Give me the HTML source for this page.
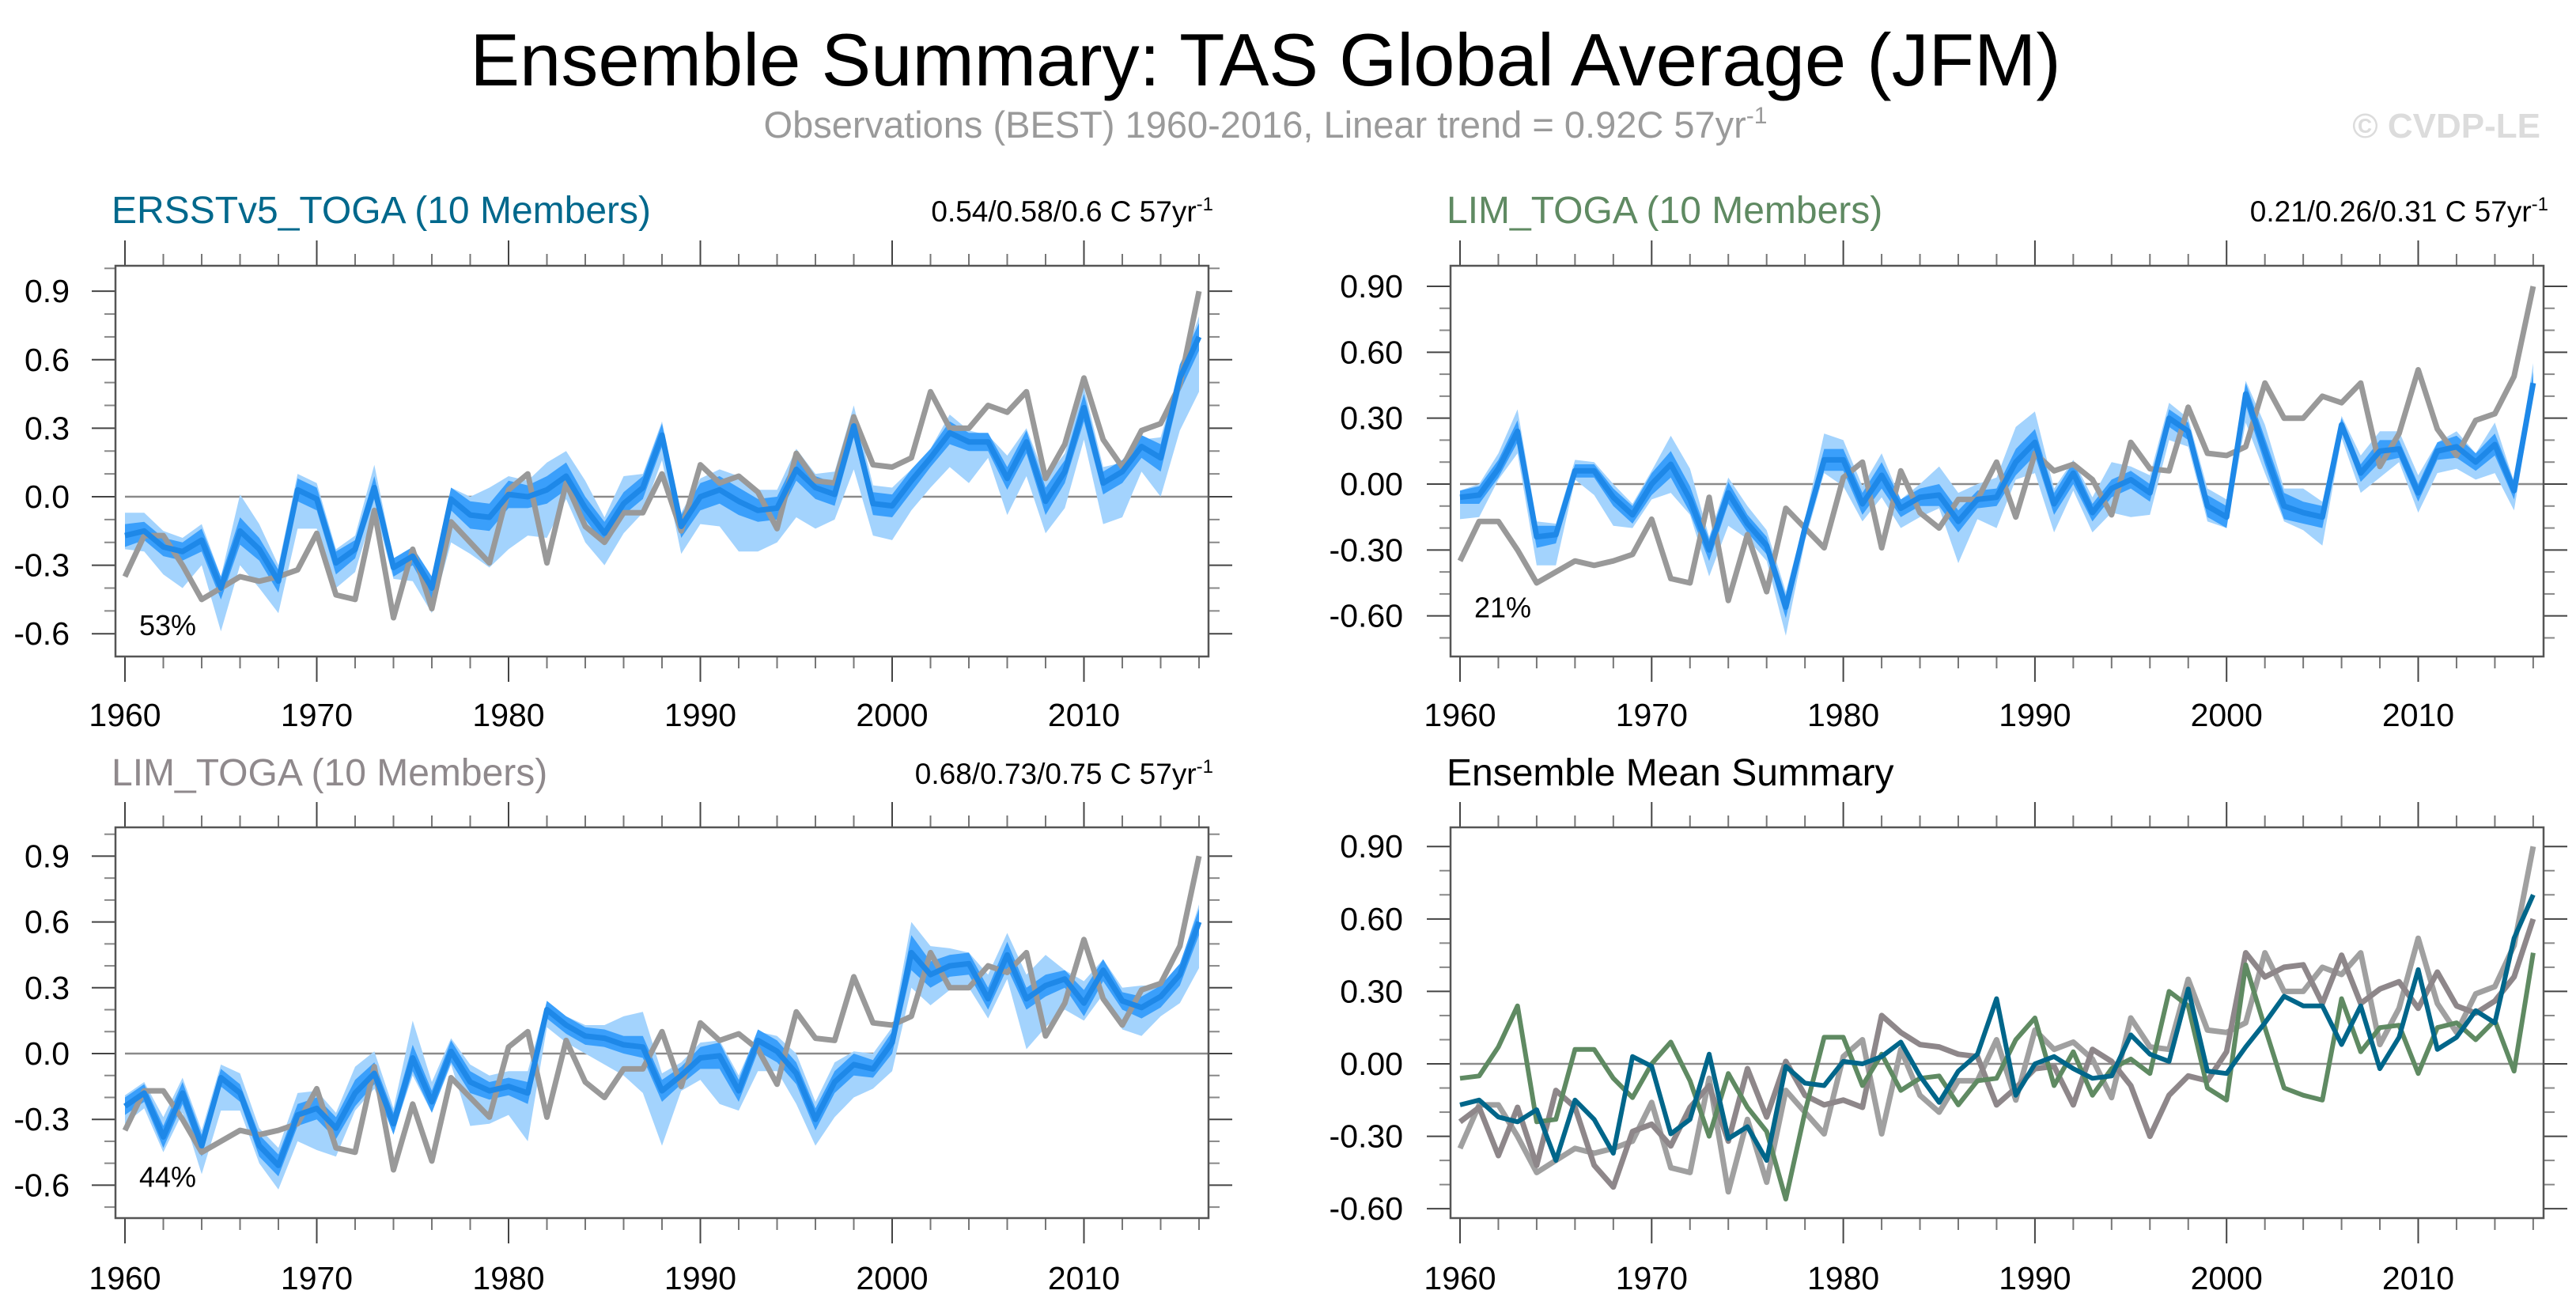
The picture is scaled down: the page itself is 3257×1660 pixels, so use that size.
<!DOCTYPE html>
<html><head><meta charset="utf-8"><title>Ensemble Summary: TAS Global Average (JFM)</title>
<style>
html,body{margin:0;padding:0;background:#fff;}
svg{display:block;font-family:"Liberation Sans",Arial,sans-serif;}
</style></head>
<body>
<svg id="chart" width="3257" height="1660" viewBox="0 0 3257 1660" xmlns="http://www.w3.org/2000/svg">
<text x="1600" y="108" font-size="94" text-anchor="middle" fill="#000">Ensemble Summary: TAS Global Average (JFM)</text>
<text x="1600" y="174" font-size="47" text-anchor="middle" fill="#9a9a9a">Observations (BEST) 1960-2016, Linear trend = 0.92C 57yr<tspan dy="-18" font-size="30">-1</tspan></text>
<text x="3212" y="174" font-size="44" font-weight="bold" text-anchor="end" fill="#dcdcdc">© CVDP-LE</text>
</svg>
<script>
const years = [];
for (let y = 1960; y <= 2016; y++) years.push(y);

const obs = [-0.35,-0.17,-0.17,-0.30,-0.45,-0.40,-0.35,-0.37,-0.35,-0.32,-0.16,-0.43,-0.45,-0.06,-0.53,-0.23,-0.49,-0.11,-0.20,-0.29,0.03,0.10,-0.29,0.06,-0.13,-0.20,-0.07,-0.07,0.10,-0.15,0.14,0.06,0.09,0.02,-0.14,0.19,0.07,0.06,0.35,0.14,0.13,0.17,0.46,0.30,0.30,0.40,0.37,0.46,0.08,0.23,0.52,0.25,0.13,0.29,0.32,0.49,0.90];

const ersstMean = [-0.17,-0.15,-0.22,-0.24,-0.19,-0.40,-0.15,-0.23,-0.37,0.03,-0.01,-0.29,-0.23,0.04,-0.31,-0.26,-0.40,-0.01,-0.08,-0.09,0.01,0.00,0.03,0.09,-0.05,-0.16,-0.03,0.04,0.27,-0.13,0.00,0.03,-0.02,-0.06,-0.05,0.12,0.04,0.01,0.31,-0.03,-0.04,0.07,0.17,0.28,0.24,0.24,0.08,0.24,-0.02,0.11,0.39,0.06,0.11,0.22,0.17,0.52,0.70];
const ersstHi = [-0.07,-0.07,-0.15,-0.18,-0.12,-0.35,0.01,-0.12,-0.30,0.10,0.06,-0.23,-0.17,0.14,-0.27,-0.23,-0.35,0.04,0.00,0.04,0.09,0.07,0.15,0.20,0.07,-0.09,0.09,0.10,0.33,-0.07,0.08,0.12,0.09,0.03,0.03,0.21,0.10,0.11,0.40,0.05,0.04,0.12,0.21,0.36,0.29,0.27,0.18,0.30,0.08,0.19,0.48,0.13,0.15,0.25,0.26,0.55,0.79];
const ersstLo = [-0.23,-0.24,-0.34,-0.40,-0.30,-0.59,-0.30,-0.40,-0.51,-0.14,-0.14,-0.40,-0.33,-0.05,-0.36,-0.37,-0.51,-0.20,-0.25,-0.31,-0.23,-0.17,-0.18,-0.01,-0.20,-0.30,-0.16,-0.07,0.16,-0.25,-0.12,-0.13,-0.24,-0.24,-0.20,-0.09,-0.14,-0.10,0.12,-0.17,-0.19,-0.06,0.04,0.13,0.06,0.17,-0.08,0.09,-0.16,-0.05,0.25,-0.12,-0.09,0.11,0.00,0.29,0.46];
const ersstDarkW = [0.05,0.04,0.04,0.04,0.05,0.05,0.06,0.05,0.05,0.05,0.05,0.05,0.04,0.05,0.04,0.04,0.05,0.05,0.06,0.06,0.06,0.05,0.06,0.06,0.05,0.05,0.05,0.05,0.05,0.05,0.06,0.06,0.06,0.05,0.05,0.05,0.05,0.05,0.05,0.05,0.05,0.05,0.04,0.05,0.04,0.04,0.05,0.05,0.06,0.05,0.06,0.05,0.05,0.05,0.06,0.06,0.06];

const limMean = [-0.06,-0.05,0.07,0.24,-0.24,-0.23,0.06,0.06,-0.06,-0.14,0.00,0.09,-0.07,-0.30,-0.04,-0.18,-0.28,-0.56,-0.20,0.11,0.11,-0.09,0.04,-0.11,-0.06,-0.05,-0.17,-0.07,-0.06,0.10,0.19,-0.09,0.05,-0.13,-0.02,0.02,-0.04,0.30,0.24,-0.10,-0.15,0.41,0.15,-0.10,-0.13,-0.15,0.27,0.05,0.15,0.16,-0.04,0.15,0.17,0.10,0.18,-0.03,0.46];
const limHi = [-0.03,0.00,0.14,0.34,-0.17,-0.18,0.11,0.10,0.00,-0.09,0.06,0.22,0.07,-0.24,0.03,-0.10,-0.21,-0.49,-0.16,0.23,0.20,-0.01,0.14,-0.07,0.00,0.08,-0.04,0.00,0.03,0.26,0.33,-0.02,0.11,-0.06,0.10,0.08,0.04,0.37,0.30,-0.02,-0.07,0.47,0.27,-0.02,-0.02,-0.08,0.31,0.13,0.24,0.24,0.04,0.19,0.24,0.14,0.28,0.01,0.55];
const limLo = [-0.16,-0.15,0.02,0.14,-0.37,-0.37,0.02,-0.05,-0.19,-0.20,-0.07,-0.04,-0.14,-0.42,-0.19,-0.25,-0.35,-0.69,-0.26,0.05,-0.01,-0.17,-0.06,-0.20,-0.15,-0.11,-0.36,-0.16,-0.20,0.02,0.05,-0.22,-0.03,-0.22,-0.13,-0.15,-0.14,0.20,0.17,-0.17,-0.20,0.28,0.05,-0.17,-0.21,-0.28,0.21,-0.04,0.03,0.10,-0.13,0.05,0.07,0.02,0.05,-0.12,0.41];
const limDarkW = [0.03,0.04,0.04,0.05,0.05,0.04,0.03,0.03,0.04,0.04,0.05,0.06,0.06,0.05,0.05,0.04,0.04,0.05,0.04,0.05,0.05,0.05,0.06,0.04,0.04,0.05,0.05,0.04,0.04,0.06,0.06,0.05,0.05,0.04,0.04,0.04,0.04,0.04,0.04,0.05,0.05,0.05,0.06,0.06,0.05,0.05,0.03,0.04,0.05,0.04,0.04,0.04,0.05,0.04,0.05,0.04,0.05];

const togaMean = [-0.24,-0.18,-0.38,-0.18,-0.42,-0.11,-0.18,-0.42,-0.51,-0.28,-0.25,-0.34,-0.18,-0.09,-0.32,-0.02,-0.22,0.01,-0.13,-0.17,-0.15,-0.18,0.20,0.13,0.08,0.07,0.04,0.03,-0.17,-0.10,-0.02,-0.01,-0.17,0.06,0.01,-0.09,-0.30,-0.13,-0.05,-0.07,0.05,0.46,0.36,0.40,0.41,0.25,0.45,0.25,0.31,0.34,0.23,0.38,0.24,0.21,0.26,0.36,0.60];
const togaHi = [-0.19,-0.13,-0.29,-0.11,-0.35,-0.05,-0.09,-0.34,-0.43,-0.18,-0.17,-0.27,-0.06,0.01,-0.25,0.15,-0.13,0.07,-0.05,-0.10,-0.08,-0.08,0.24,0.17,0.13,0.13,0.17,0.19,-0.09,-0.04,0.05,0.06,-0.10,0.10,0.08,0.00,-0.22,-0.04,0.01,0.00,0.12,0.60,0.49,0.48,0.46,0.36,0.55,0.36,0.45,0.38,0.33,0.43,0.30,0.31,0.31,0.40,0.68];
const togaLo = [-0.32,-0.25,-0.45,-0.27,-0.55,-0.26,-0.26,-0.50,-0.62,-0.40,-0.44,-0.47,-0.26,-0.16,-0.36,-0.10,-0.27,-0.05,-0.33,-0.32,-0.28,-0.40,0.12,0.05,0.00,-0.05,-0.10,-0.18,-0.42,-0.17,-0.12,-0.23,-0.26,-0.08,-0.08,-0.23,-0.42,-0.29,-0.20,-0.16,-0.08,0.30,0.22,0.29,0.30,0.16,0.34,0.02,0.12,0.20,0.15,0.27,0.11,0.08,0.17,0.23,0.39];
const togaDarkW = [0.04,0.04,0.05,0.05,0.05,0.04,0.04,0.05,0.05,0.05,0.05,0.05,0.06,0.05,0.05,0.06,0.05,0.05,0.05,0.04,0.04,0.05,0.04,0.04,0.04,0.04,0.04,0.05,0.05,0.04,0.05,0.06,0.05,0.05,0.05,0.05,0.05,0.05,0.05,0.04,0.05,0.08,0.06,0.05,0.05,0.05,0.06,0.05,0.05,0.04,0.06,0.05,0.04,0.05,0.05,0.05,0.06];

const xTickLabels = ["1960","1970","1980","1990","2000","2010"];
const yTicksLeft = [-0.6,-0.3,0.0,0.3,0.6,0.9];
const yTicksRight = [-0.60,-0.30,0.00,0.30,0.60,0.90];

const NS = "http://www.w3.org/2000/svg";
const svg = document.getElementById("chart");
function mk(tag, attrs, parent) {
  const e = document.createElementNS(NS, tag);
  for (const k in attrs) e.setAttribute(k, attrs[k]);
  (parent || svg).appendChild(e);
  return e;
}

function makePanel(cfg) {
  const g = mk("g", {});
  
  
  const xS = yr => cfg.x0 + (yr - 1960) * cfg.xStep;
  const yS = v => cfg.yZero - v * cfg.yScale;
  const L = cfg.fx0, R = cfg.fx1, T = cfg.fy0, B = cfg.fy1;

  for (let yr = 1960; yr <= 2016; yr += 2) {
    const major = (yr % 10 === 0);
    const len = major ? 32 : 15;
    const xx = xS(yr);
    const t1 = mk("line", {x1: xx, x2: xx, y1: T, y2: T - len, stroke: major ? "#444" : "#777", "stroke-width": 2}, g);
    
    
    const t2 = mk("line", {x1: xx, x2: xx, y1: B, y2: B + len, stroke: major ? "#444" : "#777", "stroke-width": 2}, g);
    
    
  }
  const vMin = (cfg.yZero - B) / cfg.yScale, vMax = (cfg.yZero - T) / cfg.yScale;
  for (let k = Math.ceil(vMin * 10 - 1e-6); k <= Math.floor(vMax * 10 + 1e-6); k++) {
    const v = k / 10;
    const major = (Math.abs(k) % 3 === 0);
    const len = major ? 30 : 14;
    const yy = yS(v);
    const a = mk("line", {x1: L, x2: L - len, y1: yy, y2: yy, stroke: major ? "#444" : "#888", "stroke-width": 2}, g);
    
    
    const b = mk("line", {x1: R, x2: R + len, y1: yy, y2: yy, stroke: major ? "#444" : "#888", "stroke-width": 2}, g);
    
    
  }

  const z = mk("line", {x1: xS(1960), x2: R, y1: yS(0), y2: yS(0), stroke: "#8a8a8a", "stroke-width": 2.5}, g);
  
  

  function band(lo, hi, fill, nm) {
    let d = "";
    years.forEach((yr, i) => { d += (i ? "L" : "M") + xS(yr).toFixed(1) + "," + yS(hi[i]).toFixed(1); });
    for (let i = years.length - 1; i >= 0; i--) d += "L" + xS(years[i]).toFixed(1) + "," + yS(lo[i]).toFixed(1);
    const p = mk("path", {d: d + "Z", fill: fill, stroke: "none"}, g);
    
    
  }
  function line(vals, color, w, nm) {
    const pts = years.map((yr, i) => xS(yr).toFixed(1) + "," + yS(vals[i]).toFixed(1)).join(" ");
    const p = mk("polyline", {points: pts, fill: "none", stroke: color, "stroke-width": w, "stroke-linejoin": "round"}, g);
    
    
  }

  if (cfg.mean) {
    band(cfg.lo, cfg.hi, "#a3d3fd", "ensemble-range-band");
    const dLo = cfg.mean.map((m, i) => m - cfg.dw[i]);
    const dHi = cfg.mean.map((m, i) => m + cfg.dw[i]);
    band(dLo, dHi, "#3a9ffb", "ensemble-iqr-band");
    line(obs, "#999999", 7, "observations-line");
    line(cfg.mean, "#1e88e8", 7, "ensemble-mean-line");
  } else {
    line(obs, "#a0a0a0", 7, "observations-mean-line");
    line(togaMean, "#8e878a", 7, "lim-toga-gray-mean-line");
    line(limMean, "#5f8a62", 6, "lim-toga-green-mean-line");
    line(ersstMean, "#00668a", 6, "ersstv5-toga-mean-line");
  }

  const f = mk("rect", {x: L, y: T, width: R - L, height: B - T, fill: "none", stroke: "#555", "stroke-width": 2.5}, g);
  
  

  xTickLabels.forEach(s => {
    const t = mk("text", {x: xS(+s), y: cfg.xLabY, "font-size": 41, "text-anchor": "middle", fill: "#000"}, g);
    t.textContent = s;
    
    
  });
  cfg.yTicks.forEach(v => {
    const t = mk("text", {x: cfg.yLabX, y: yS(v) + 14, "font-size": 41, "text-anchor": "end", fill: "#000"}, g);
    t.textContent = v.toFixed(cfg.dec);
    
    
  });

  const tt = mk("text", {x: cfg.titleX, y: cfg.titleY, "font-size": 48, fill: cfg.titleColor}, g);
  tt.textContent = cfg.title;
  
  

  if (cfg.trend) {
    const tr = mk("text", {x: R + 6, y: cfg.titleY - 2, "font-size": 37, "text-anchor": "end", fill: "#000"}, g);
    tr.textContent = cfg.trend;
    const sp = document.createElementNS(NS, "tspan");
    sp.setAttribute("dy", "-14");
    sp.setAttribute("font-size", "24");
    sp.textContent = "-1";
    tr.appendChild(sp);
    
    
  }
  if (cfg.pct) {
    const pc = mk("text", {x: L + 30, y: yS(-0.6) + 2, "font-size": 36, fill: "#000"}, g);
    pc.textContent = cfg.pct;
    
    
  }
}

makePanel({name: "panel-ersstv5-toga", fx0: 146, fx1: 1528, fy0: 336, fy1: 830, x0: 158, xStep: 24.25, yZero: 628, yScale: 288.7,
  yTicks: yTicksLeft, dec: 1, yLabX: 88, xLabY: 918, title: "ERSSTv5_TOGA (10 Members)", titleX: 141, titleY: 282, titleColor: "#00688c",
  trend: "0.54/0.58/0.6 C 57yr", pct: "53%", mean: ersstMean, hi: ersstHi, lo: ersstLo, dw: ersstDarkW});
makePanel({name: "panel-lim-toga-green", fx0: 1834, fx1: 3216, fy0: 336, fy1: 830, x0: 1846, xStep: 24.23, yZero: 612, yScale: 277.8,
  yTicks: yTicksRight, dec: 2, yLabX: 1774, xLabY: 918, title: "LIM_TOGA (10 Members)", titleX: 1829, titleY: 282, titleColor: "#5f8a62",
  trend: "0.21/0.26/0.31 C 57yr", pct: "21%", mean: limMean, hi: limHi, lo: limLo, dw: limDarkW});
makePanel({name: "panel-lim-toga-gray", fx0: 146, fx1: 1528, fy0: 1046, fy1: 1540, x0: 158, xStep: 24.25, yZero: 1332, yScale: 277.3,
  yTicks: yTicksLeft, dec: 1, yLabX: 88, xLabY: 1630, title: "LIM_TOGA (10 Members)", titleX: 141, titleY: 993, titleColor: "#8f898c",
  trend: "0.68/0.73/0.75 C 57yr", pct: "44%", mean: togaMean, hi: togaHi, lo: togaLo, dw: togaDarkW});
makePanel({name: "panel-ensemble-mean-summary", fx0: 1834, fx1: 3216, fy0: 1046, fy1: 1540, x0: 1846, xStep: 24.23, yZero: 1345, yScale: 305.3,
  yTicks: yTicksRight, dec: 2, yLabX: 1774, xLabY: 1630, title: "Ensemble Mean Summary", titleX: 1829, titleY: 993, titleColor: "#000"});
</script>
</body></html>
